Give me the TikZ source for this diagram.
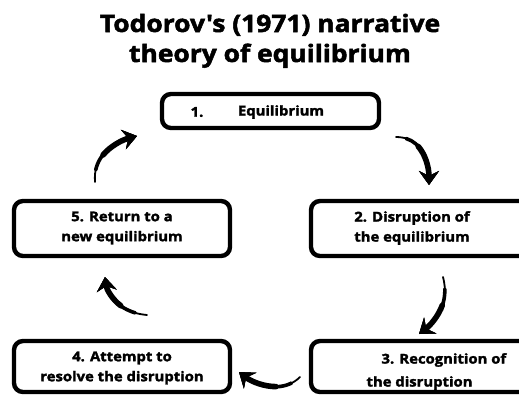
\documentclass[tikz,border=0pt]{standalone}
\usepackage{fontspec}
\setmainfont{Open Sans}
\newfontfamily\heavyfont{Open Sans}[BoldFeatures={FakeBold=2.1,FakeStretch=1.1}]
\usetikzlibrary{arrows.meta,calc}
\newcommand\taperpart[6]{%
  \coordinate (tA) at ($(#1)!#5!(#2)$);
  \coordinate (tB) at ($(#2)!#5!(#3)$);
  \coordinate (tC) at ($(#3)!#5!(#4)$);
  \coordinate (tD) at ($(tA)!#5!(tB)$);
  \coordinate (tE) at ($(tB)!#5!(tC)$);
  \coordinate (tF) at ($(tD)!#5!(tE)$);
  \draw[curvearrow,line width=#6] (tF) .. controls (tE) and (tC) .. (#4);}
\newcommand\taperarrow[4]{%
  \draw[curvearrow,line width=1.8pt] (#1) .. controls (#2) and (#3) .. (#4);
  \taperpart{#1}{#2}{#3}{#4}{0.18}{3.6pt}
  \taperpart{#1}{#2}{#3}{#4}{0.45}{5.6pt}}
\begin{document}
\begin{tikzpicture}[x=1pt,y=-1pt,
  stagebox/.style={draw=black,line width=4.4pt,rounded corners=9pt,fill=white},
  stagetext/.style={font=\heavyfont\bfseries\fontsize{13.5}{20}\selectfont,align=center},
  titletext/.style={font=\heavyfont\bfseries\fontsize{24}{30}\selectfont,anchor=base},
  curvearrow/.style={line cap=round,-{Stealth[length=14pt,width=20pt,inset=5pt]}}]
\useasboundingbox (0,0) rectangle (519,394);
\clip (0,0) rectangle (519,394);
% title
\node[titletext] (title1) at (270,32) {Todorov\symbol{39}s (1971) narrative};
\node[titletext] (title2) at (270,62) {theory of equilibrium};
% boxes
\draw[stagebox] (162,94) rectangle (379,128);
\node[stagetext] (s1) at (197,112) {1.};
\node[stagetext] (s1b) at (281,112) {Equilibrium};
\draw[stagebox] (14,201) rectangle (230,256);
\node[stagetext] (s5) at (122,228) {5. Return to a\\new equilibrium};
\draw[stagebox] (311,201) rectangle (540,256);
\node[stagetext] (s2) at (412,228) {2. Disruption of\\the equilibrium};
\draw[stagebox] (14,341) rectangle (230,392);
\node[stagetext] (s4) at (122,368) {4. Attempt to\\resolve the disruption};
\draw[stagebox] (311,341) rectangle (540,392);
\node[stagetext,anchor=west] (s3a) at (378,360) {3. Recognition of};
\node[stagetext,anchor=west] (s3b) at (363,383) {the disruption};
% arrows
\coordinate (a1) at (95,182); \coordinate (ac1) at (93,158);
\coordinate (ac2) at (110,143); \coordinate (a2) at (137,136);
\taperarrow{a1}{ac1}{ac2}{a2}
\coordinate (b1) at (396,137); \coordinate (bc1) at (416,137);
\coordinate (bc2) at (429,152); \coordinate (b2) at (429,185);
\taperarrow{b1}{bc1}{bc2}{b2}
\coordinate (c1) at (443,277); \coordinate (cc1) at (449,300);
\coordinate (cc2) at (440,318); \coordinate (c2) at (419,334);
\taperarrow{c1}{cc1}{cc2}{c2}
\coordinate (d1) at (300,377); \coordinate (dc1) at (286,391);
\coordinate (dc2) at (262,390); \coordinate (d2) at (239,372);
\taperarrow{d1}{dc1}{dc2}{d2}
\coordinate (e1) at (147,315); \coordinate (ec1) at (124,313);
\coordinate (ec2) at (108,300); \coordinate (e2) at (105,277);
\taperarrow{e1}{ec1}{ec2}{e2}
\end{tikzpicture}
\end{document}
